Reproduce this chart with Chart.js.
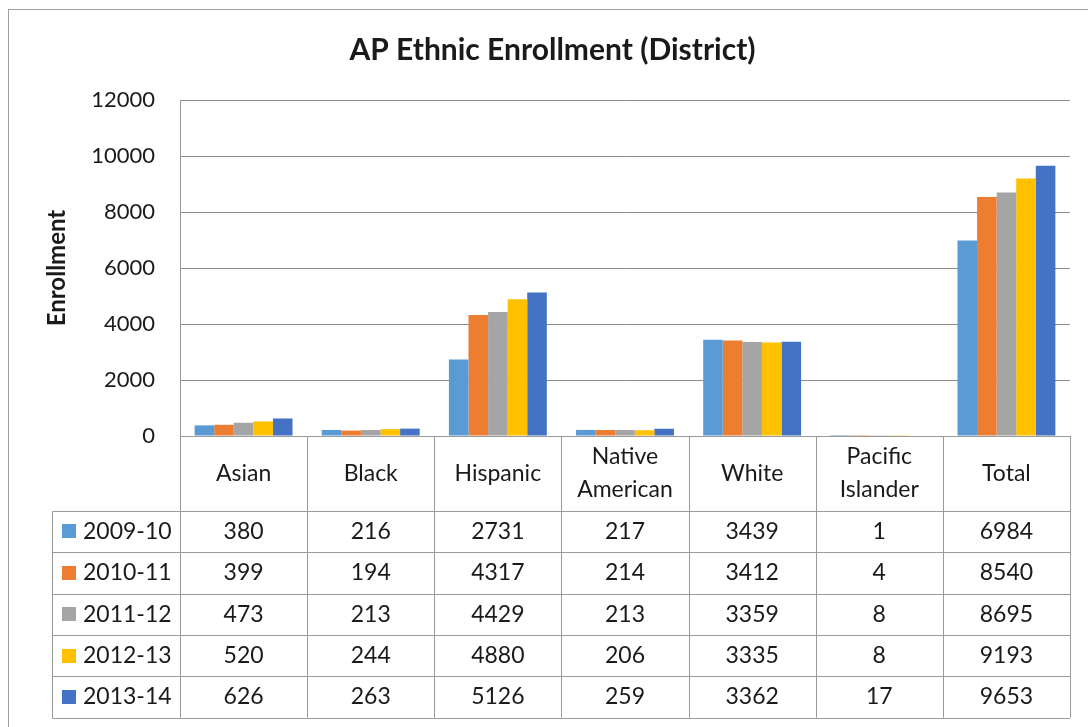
<!DOCTYPE html>
<html>
<head>
<meta charset="utf-8">
<script src="https://cdn.jsdelivr.net/npm/chart.js@4.4.0/dist/chart.umd.min.js"></script>
<style>
  html, body { margin: 0; padding: 0; background: #fff; }
  #wrap { width: 1088px; height: 727px; position: relative; }
</style>
</head>
<body>
<div id="wrap"><canvas id="chart"></canvas></div>
<script>
const categories = ["Asian", "Black", "Hispanic", ["Native", "American"], "White", ["Pacific", "Islander"], "Total"];
const years = ["2009-10", "2010-11", "2011-12", "2012-13", "2013-14"];
const y0910 = [380, 216, 2731, 217, 3439, 1, 6984];
const y1011 = [399, 194, 4317, 214, 3412, 4, 8540];
const y1112 = [473, 213, 4429, 213, 3359, 8, 8695];
const y1213 = [520, 244, 4880, 206, 3335, 8, 9193];
const y1314 = [626, 263, 5126, 259, 3362, 17, 9653];
const yMax = 12000;
const yStep = 2000;

const series = [y0910, y1011, y1112, y1213, y1314];
const colors = ["#5B9BD5", "#ED7D31", "#A5A5A5", "#FFC000", "#4472C4"];
const FONT = "Lato, 'Open Sans', sans-serif";
const TEXT = "#1a1a1a";
const LINE = "#9a9a9a";

// draws the data table under the axis, using the x scale for the columns
const dataTable = {
  id: "dataTable",
  afterDraw(chart) {
    const { ctx, scales: { x } } = chart;
    const n = categories.length;
    const colW = (x.right - x.left) / n;
    const headBottom = x.top + 74.7;
    const rowH = 41.4;
    const bottom = headBottom + rowH * series.length;
    const keyLeft = 52.5;

    ctx.save();
    ctx.strokeStyle = LINE;
    ctx.lineWidth = 1;
    ctx.beginPath();
    for (let i = 0; i <= n; i++) {
      const px = Math.round(x.left + i * colW) + 0.5;
      ctx.moveTo(px, x.top);
      ctx.lineTo(px, bottom);
    }
    for (let r = 0; r <= series.length; r++) {
      const py = Math.round(headBottom + r * rowH) + 0.5;
      ctx.moveTo(keyLeft, py);
      ctx.lineTo(x.right, py);
    }
    ctx.moveTo(keyLeft, Math.round(headBottom) + 0.5);
    ctx.lineTo(keyLeft, Math.round(bottom) + 0.5);
    ctx.stroke();

    ctx.font = "23px " + FONT;
    ctx.textBaseline = "middle";
    series.forEach((vals, r) => {
      const cy = headBottom + rowH * (r + 0.5);
      ctx.fillStyle = colors[r];
      ctx.fillRect(62, Math.round(cy - 7), 14, 14);
      ctx.fillStyle = TEXT;
      ctx.textAlign = "left";
      ctx.fillText(years[r], 83, cy);
      ctx.textAlign = "center";
      vals.forEach((v, i) => ctx.fillText(String(v), x.getPixelForValue(i), cy));
    });

    // outer chart border
    ctx.strokeStyle = "#a0a0a0";
    ctx.strokeRect(8.5, 9.5, 1200, 1200);
    ctx.restore();
  }
};

new Chart(document.getElementById("chart"), {
  type: "bar",
  data: {
    labels: categories,
    datasets: series.map((data, i) => ({
      label: years[i],
      data,
      backgroundColor: colors[i],
      borderWidth: 0,
      barPercentage: 1,
      categoryPercentage: 0.77
    }))
  },
  options: {
    responsive: true,
    maintainAspectRatio: false,
    animation: false,
    layout: { padding: { left: 35, right: 18, top: 0, bottom: 0 } },
    plugins: {
      legend: { display: false },
      tooltip: { enabled: false },
      title: {
        display: true,
        text: "AP Ethnic Enrollment (District)",
        color: TEXT,
        font: { family: FONT, size: 30, weight: "bold" },
        padding: { top: 32, bottom: 32 }
      }
    },
    scales: {
      x: {
        grid: { display: false, drawTicks: false },
        border: { display: true, color: LINE },
        ticks: {
          color: TEXT,
          font: { family: FONT, size: 23, lineHeight: 1.4 },
          maxRotation: 0,
          autoSkip: false,
          padding: 21,
          crossAlign: "center"
        },
        afterFit(scale) { scale.height = 291; }
      },
      y: {
        min: 0,
        max: yMax,
        grid: { color: "#8c8c8c", drawTicks: false },
        border: { display: true, color: LINE },
        ticks: {
          stepSize: yStep,
          color: TEXT,
          font: { family: FONT, size: 22 },
          padding: 25,
          callback: (v) => String(v)
        },
        title: {
          display: true,
          text: "Enrollment",
          color: TEXT,
          font: { family: FONT, size: 24, weight: "bold" },
          padding: { top: 8, bottom: 0 }
        },
        afterFit(scale) { scale.width = 145; }
      }
    }
  },
  plugins: [dataTable]
});
</script>
</body>
</html>
